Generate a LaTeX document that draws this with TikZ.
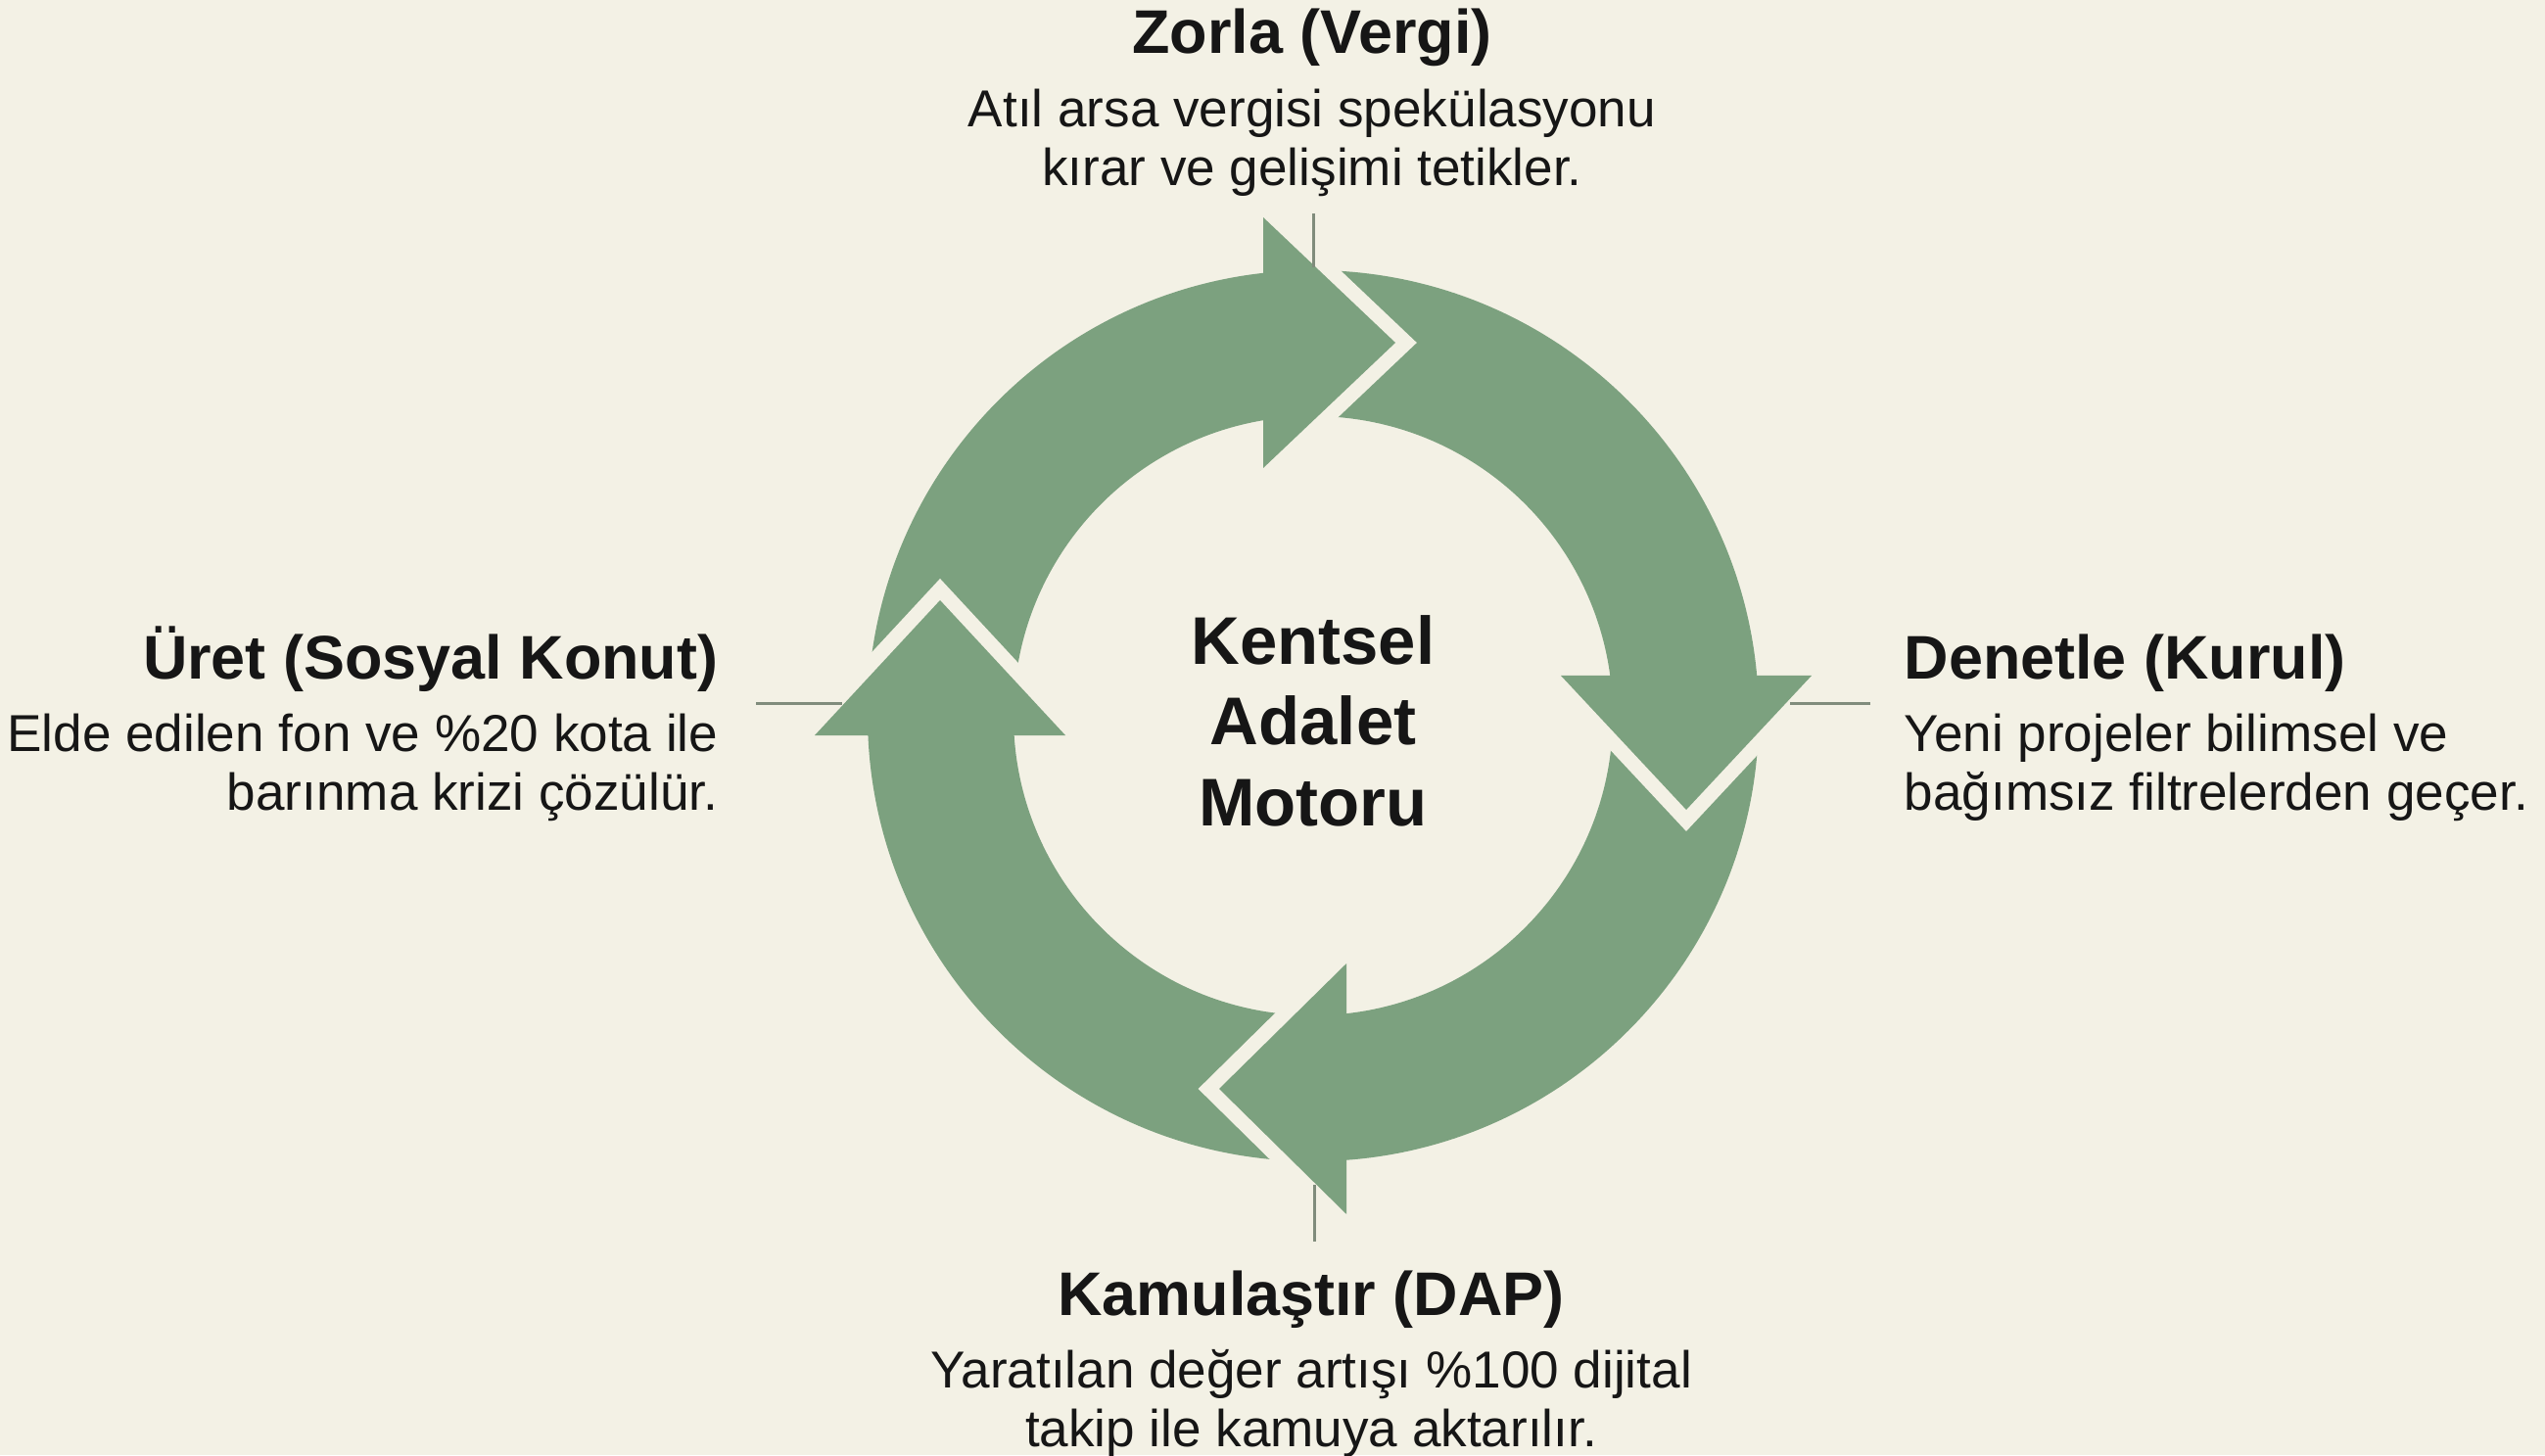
\documentclass[tikz,border=0pt]{standalone}
\usepackage{fontspec}
\setmainfont{Liberation Sans}
\usetikzlibrary{positioning}
\definecolor{cream}{RGB}{243,241,229}
\definecolor{leaf}{RGB}{124,161,127}
\definecolor{stem}{RGB}{128,140,124}
\definecolor{ink}{RGB}{22,22,22}
\begin{document}
\begin{tikzpicture}[
	ring/.style={fill=leaf},
	gap/.style={draw=cream, line width=0.3cm, miter limit=10},
	tick/.style={draw=stem, line width=0.03cm},
	head/.style={font=\fontsize{17.9pt}{20pt}\selectfont\bfseries, text=ink, inner sep=0pt},
	body/.style={font=\fontsize{15.1pt}{17.1pt}\selectfont, text=ink, inner sep=0pt},
	title/.style={font=\fontsize{19.6pt}{23.5pt}\selectfont\bfseries, text=ink, inner sep=0pt, align=center}]
	\fill[cream] (0,0) rectangle (25.99,14.86);
	\useasboundingbox (0,0) rectangle (25.99,14.86);
	\coordinate (c) at (13.41,7.55);
	
	% Ring and heads
	\fill[ring, even odd rule] (c) circle (4.55) (c) circle (3.06);
	\foreach \ang/\bk/\fw in {90/0.51/0.84, 0/0.41/0.96, -90/0.34/0.96, 180/0.20/1.18}{
		\begin{scope}[shift={(c)}, rotate=\ang-90]
			\draw[gap] (-\bk,5.09) -- (\fw,3.81) -- (-\bk,2.53);
			\fill[ring] (-\bk,5.09) -- (\fw,3.81) -- (-\bk,2.53) -- cycle;
		\end{scope}
	}
	
	\node[title, yshift=-0.05cm] (motor) at (c) {Kentsel\\Adalet\\Motoru};
	
	% Labels
	\node[head, anchor=base] (zorla) at (13.40,14.31) {Zorla (Vergi)};
	\node[body, align=center, below=0.35cm of zorla.base] (zorla-text) {Atıl arsa vergisi spekülasyonu\\kırar ve gelişimi tetikler.};
	\node[head, anchor=base west] (denetle) at (19.44,7.93) {Denetle (Kurul)};
	\node[body, align=left, below=0.35cm of denetle.base west, anchor=north west] (denetle-text) {Yeni projeler bilimsel ve\\bağımsız filtrelerden geçer.};
	\node[head, anchor=base] (kamu) at (13.39,1.43) {Kamulaştır (DAP)};
	\node[body, align=center, below=0.35cm of kamu.base] (kamu-text) {Yaratılan değer artışı \%100 dijital\\takip ile kamuya aktarılır.};
	\node[head, anchor=base east] (uret) at (7.34,7.93) {Üret (Sosyal Konut)};
	\node[body, align=right, below=0.35cm of uret.base east, anchor=north east] (uret-text) {Elde edilen fon ve \%20 kota ile\\barınma krizi çözülür.};
	
	% Ticks
	\coordinate (zorla-a) at (13.41,12.68);
	\coordinate (zorla-b) at (13.41,12.13);
	\coordinate (denetle-a) at (19.10,7.68);
	\coordinate (denetle-b) at (18.28,7.68);
	\coordinate (kamu-a) at (13.42,2.18);
	\coordinate (kamu-b) at (13.42,2.76);
	\coordinate (uret-a) at (7.72,7.68);
	\coordinate (uret-b) at (8.60,7.68);
	\draw[tick] (zorla-a) -- (zorla-b);
	\draw[tick] (denetle-a) -- (denetle-b);
	\draw[tick] (kamu-a) -- (kamu-b);
	\draw[tick] (uret-a) -- (uret-b);
\end{tikzpicture}
\end{document}
